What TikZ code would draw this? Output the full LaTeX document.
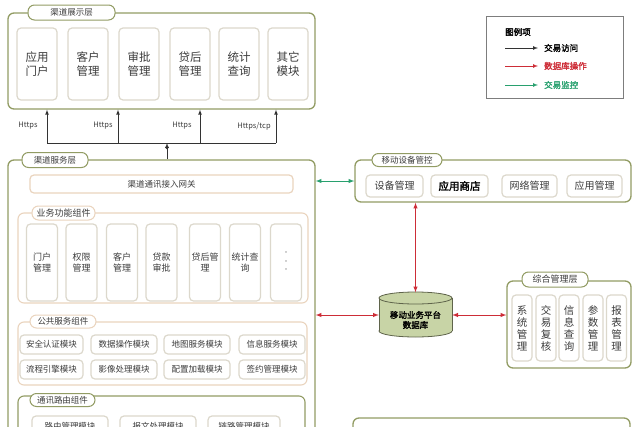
\documentclass[tikz,border=0pt]{standalone}
\usepackage{fontspec}
\setmainfont{Noto Sans CJK SC}[AutoFakeBold=2]
\definecolor{schichtgruen}{RGB}{146,156,100}
\definecolor{gruppenrand}{RGB}{234,212,190}
\definecolor{kastenrand}{RGB}{220,216,204}
\definecolor{textgrau}{RGB}{60,60,60}
\definecolor{dbgruen}{RGB}{200,212,166}
\definecolor{dbrand}{RGB}{95,100,75}
\definecolor{rotlinie}{RGB}{205,45,55}
\definecolor{gruenlinie}{RGB}{40,160,110}
\definecolor{legendengrau}{RGB}{125,125,125}
\tikzset{
    schicht/.style={draw=schichtgruen, line width=1.3pt, rounded corners=6pt, fill=white, inner sep=0pt},
    reiter/.style={draw=schichtgruen, line width=1pt, fill=white, rounded corners=6.5pt, inner sep=0pt, text=textgrau, font=\fontsize{8.5}{9}\selectfont},
    gruppe/.style={draw=gruppenrand, line width=1.1pt, rounded corners=6pt, inner sep=0pt},
    gruppentab/.style={reiter, draw=gruppenrand},
    kasten/.style={draw=kastenrand, line width=1.2pt, rounded corners=4pt, fill=white, align=center, inner sep=0pt, text=textgrau, font=\fontsize{8.5}{10}\selectfont},
    linie/.style={draw=black!80, line width=0.7pt},
    rotpfeil/.style={draw=rotlinie, line width=1pt},
    gruenpfeil/.style={draw=gruenlinie, line width=1pt},
    protokoll/.style={text=textgrau, font=\fontsize{7.5}{9}\selectfont},
}
\begin{document}
\begin{tikzpicture}[x=1pt, y=-1pt, >=latex]
    \useasboundingbox (0,0) rectangle (640,426);
    \clip (0,0) rectangle (640,426);

    % Darstellungsschicht
    \node[schicht, minimum width=307, minimum height=96] (show) at (161.5,61) {};
    \node[reiter, minimum width=87, minimum height=15] (showtab) at (71.5,12.5) {渠道展示层};
    \foreach \x/\t [count=\i] in {37/{应用\\门户}, 88/{客户\\管理}, 139/{审批\\管理}, 190/{贷后\\管理}, 239/{统计\\查询}, 288/{其它\\模块}}
        \node[kasten, minimum width=40, minimum height=72, text width=38, font=\fontsize{11.5}{13.5}\selectfont] (z\i) at (\x,64) {\t};

    % Bus
    \coordinate (bus) at (167,143);
    \foreach \x [count=\i] in {47,118,200,276} {
        \coordinate (b\i) at (\x,143);
        \draw[linie,->] (b\i) -- (b\i |- show.south);
    }
    \draw[linie] (b1) -- (b4);
    \foreach \x/\t [count=\i] in {28/Https, 103/Https, 182/Https, 254/{Https/tcp}}
        \node[protokoll] (p\i) at (\x,126) {\t};

    % Dienstschicht
    \node[schicht, minimum width=307, minimum height=310] (serv) at (161.5,315) {};
    \node[reiter, minimum width=66, minimum height=15] (servtab) at (55,160) {渠道服务层};
    \draw[linie,->] (serv.north -| bus) -- (bus);
    \fill[black!80] (167,147.5) circle (1.8);
    \node[kasten, draw=gruppenrand, minimum width=263, minimum height=18] (gw) at (161.5,184) {渠道通讯接入网关};

    % Fachkomponenten
    \node[gruppe, minimum width=290, minimum height=90] (funk) at (163,258) {};
    \node[gruppentab, minimum width=63, minimum height=14, font=\fontsize{9}{10}\selectfont] (funktab) at (63.5,213) {业务功能组件};
    \foreach \x/\t [count=\i] in {42/{门户\\管理}, 81.5/{权限\\管理}, 122/{客户\\管理}, 161.5/{贷款\\审批}, 205/{贷后管\\理}, 245/{统计查\\询}}
        \node[kasten, minimum width=31, minimum height=77, text width=29, font=\fontsize{9}{11}\selectfont] (f\i) at (\x,262.5) {\t};
    \node[kasten, minimum width=31, minimum height=77, text width=29, text=black!35, font=\fontsize{8}{8.5}\selectfont] (f7) at (286,262.5) {·\\·\\·};

    % Gemeinsame Dienste
    \node[gruppe, minimum width=289, minimum height=63] (oeff) at (162.5,353.5) {};
    \node[gruppentab, minimum width=66, minimum height=13] (oefftab) at (63,321.5) {公共服务组件};
    \foreach \x/\w/\a/\b [count=\i] in {51.5/63/安全认证模块/流程引擎模块, 124/66/数据操作模块/影像处理模块, 197/66/地图服务模块/配置加载模块, 272/66/信息服务模块/签约管理模块} {
        \node[kasten, minimum width=\w, minimum height=19] (o\i) at (\x,344.5) {\a};
        \node[kasten, minimum width=\w, minimum height=19] (u\i) at (\x,369.5) {\b};
    }

    % Routing
    \node[gruppe, draw=schichtgruen, minimum width=287, minimum height=74] (route) at (161.5,433) {};
    \node[reiter, minimum width=65, minimum height=13] (routetab) at (62.5,400) {通讯路由组件};
    \foreach \x/\w/\t [count=\i] in {70/76/路由管理模块, 158/76/报文处理模块, 244/72/链路管理模块}
        \node[kasten, minimum width=\w, minimum height=20] (r\i) at (\x,426) {\t};

    % Geraeteverwaltung
    \node[schicht, minimum width=276, minimum height=42] (dev) at (493,181) {};
    \node[reiter, minimum width=70, minimum height=13] (devtab) at (407,160) {移动设备管控};
    \node[kasten, minimum width=57, minimum height=22, font=\fontsize{10}{11}\selectfont] (d1) at (394.5,186) {设备管理};
    \node[kasten, minimum width=57, minimum height=22, text=black, font=\fontsize{10.5}{11}\selectfont\bfseries] (d2) at (459.5,186) {应用商店};
    \node[kasten, minimum width=55, minimum height=22, font=\fontsize{10}{11}\selectfont] (d3) at (529.5,186) {网络管理};
    \node[kasten, minimum width=55, minimum height=22, font=\fontsize{10}{11}\selectfont] (d4) at (594.5,186) {应用管理};

    % Datenbank
    \filldraw[fill=dbgruen, draw=dbrand, line width=0.8pt] (415.5,331) ellipse [x radius=36.5, y radius=6];
    \fill[dbgruen] (379,298) rectangle (452,331);
    \draw[dbrand, line width=0.8pt] (379,298) -- (379,331) (452,298) -- (452,331);
    \filldraw[fill=dbgruen, draw=dbrand, line width=0.8pt] (415.5,298) ellipse [x radius=36.5, y radius=6];
    \node[minimum width=73, minimum height=45, inner sep=0pt] (db) at (415.5,315) {};
    \node[align=center, text=black, font=\fontsize{8.5}{10}\selectfont\bfseries] (dbtext) at (415.5,320) {移动业务平台\\数据库};

    % Verwaltungsschicht
    \node[schicht, minimum width=124, minimum height=87] (mgmt) at (569,324.5) {};
    \node[reiter, minimum width=66, minimum height=15, font=\fontsize{9}{10}\selectfont] (mgmttab) at (555,279.5) {综合管理层};
    \foreach \x/\t [count=\i] in {522/{系\\统\\管\\理}, 546/{交\\易\\复\\核}, 569/{信\\息\\查\\询}, 593/{参\\数\\管\\理}, 616.5/{报\\表\\管\\理}}
        \node[kasten, minimum width=20, minimum height=66, text width=14, font=\fontsize{10.5}{12}\selectfont] (m\i) at (\x,328) {\t};

    % unten
    \node[schicht, minimum width=277, minimum height=52] (kern) at (491.5,444) {};

    % Verbindungen
    \draw[gruenpfeil,<->] (serv.east |- dev.west) -- (dev.west);
    \draw[rotpfeil,<->] (dev.south -| db.north) -- (db.north);
    \draw[rotpfeil,<->] (serv.east |- db.west) -- (db.west);
    \draw[rotpfeil,<->] (db.east) -- (mgmt.west |- db.east);

    % Legende
    \node[draw=legendengrau, line width=1pt, minimum width=137, minimum height=82] (leg) at (554.5,57) {};
    \node[anchor=west, inner sep=0pt, font=\fontsize{8.5}{10}\selectfont\bfseries] (legtitel) at (505,32) {图例项};
    \node[anchor=west, inner sep=0pt, font=\fontsize{8.5}{10}\selectfont\bfseries] (l1) at (544,48) {交易访问};
    \node[anchor=west, inner sep=0pt, text=rotlinie, font=\fontsize{8.5}{10}\selectfont\bfseries] (l2) at (544,66) {数据库操作};
    \node[anchor=west, inner sep=0pt, text=gruenlinie, font=\fontsize{8.5}{10}\selectfont\bfseries] (l3) at (544,85) {交易监控};
    \coordinate (l1s) at (505,48);
    \coordinate (l2s) at (505,66);
    \coordinate (l3s) at (505,85);
    \draw[linie,->] (l1s) -- ([xshift=-6]l1.west);
    \draw[rotpfeil,line width=0.7pt,->] (l2s) -- ([xshift=-6]l2.west);
    \draw[gruenpfeil,line width=0.7pt,->] (l3s) -- ([xshift=-6]l3.west);
\end{tikzpicture}
\end{document}
